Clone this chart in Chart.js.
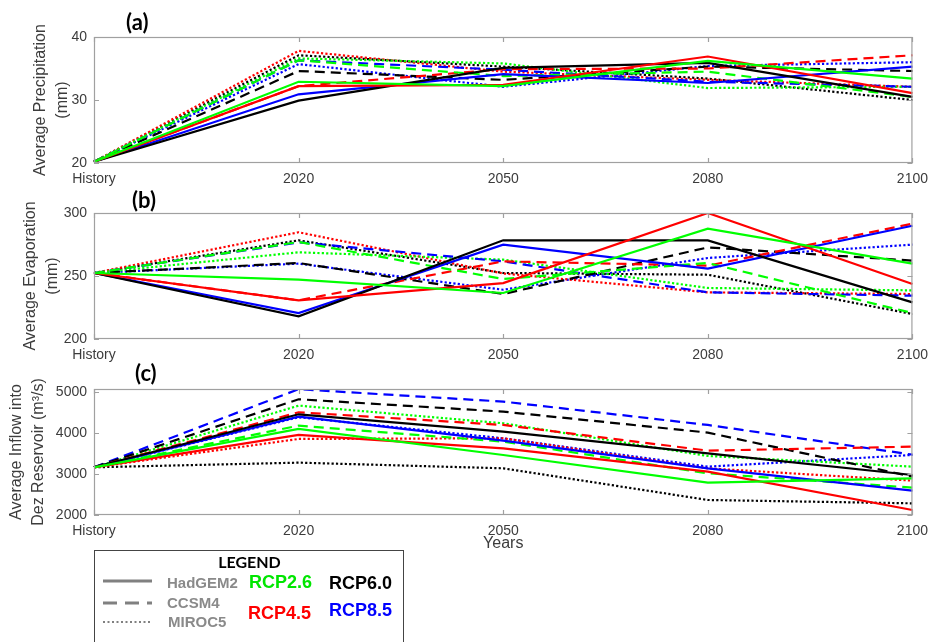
<!DOCTYPE html>
<html>
<head>
<meta charset="utf-8">
<script src="https://cdn.jsdelivr.net/npm/chart.js@4.4.0/dist/chart.umd.min.js"></script>
<style>
  body { margin: 0; background: #fff; width: 936px; height: 642px; overflow: hidden; position: relative; font-family: "Liberation Sans", Arial, sans-serif; }
  canvas { position: absolute; left: 0; }
  .tag { position: absolute; font-family: Lato, sans-serif; font-weight: bold; font-size: 22px; line-height: 22px; color: #000; }
  #legendBox { position: absolute; left: 94px; top: 550px; width: 308px; height: 110px; border: 1.5px solid #444; background: #fff; }
  .lg { position: absolute; font-weight: bold; white-space: nowrap; }
  .model { font-size: 15px; line-height: 16px; color: #8a8a8a; }
  .rcp { font-size: 18px; line-height: 20px; }
</style>
</head>
<body>
<canvas id="chartA" width="936" height="190" style="top:0px"></canvas>
<canvas id="chartB" width="936" height="175" style="top:190px"></canvas>
<canvas id="chartC" width="936" height="190" style="top:365px"></canvas>

<div class="tag" style="left:126px; top:11px">(a)</div>
<div class="tag" style="left:132px; top:189px">(b)</div>
<div class="tag" style="left:135px; top:362px">(c)</div>

<div id="legendBox"></div>
<div class="lg" style="left:94px; width:311px; top:553px; text-align:center; font-family:Lato, sans-serif; font-size:16px; line-height:18px; color:#000">LEGEND</div>
<svg style="position:absolute; left:100px; top:572px" width="56" height="60">
  <line x1="3" y1="9" x2="52" y2="9" stroke="#808080" stroke-width="3"/>
  <line x1="3" y1="31" x2="52" y2="31" stroke="#808080" stroke-width="3" stroke-dasharray="14 8"/>
  <line x1="3" y1="50" x2="51" y2="50" stroke="#808080" stroke-width="2" stroke-dasharray="2 2.5"/>
</svg>
<div class="lg model" style="left:167px; top:575px">HadGEM2</div>
<div class="lg model" style="left:167px; top:595px">CCSM4</div>
<div class="lg model" style="left:168px; top:614px">MIROC5</div>
<div class="lg rcp" style="left:249px; top:572px; color:#00e600">RCP2.6</div>
<div class="lg rcp" style="left:248px; top:603px; color:#ff0000">RCP4.5</div>
<div class="lg rcp" style="left:329px; top:573px; color:#000">RCP6.0</div>
<div class="lg rcp" style="left:329px; top:600px; color:#0000ff">RCP8.5</div>

<script>
const categories = ["History", "2020", "2050", "2080", "2100"];
const rcpNames = ["RCP2.6", "RCP4.5", "RCP6.0", "RCP8.5"];
const modelNames = ["HadGEM2", "CCSM4", "MIROC5"];

// rows follow rcpNames: RCP2.6, RCP4.5, RCP6.0, RCP8.5
// (a) average precipitation (mm)
const precipHadGEM2 = [
  [20.2, 32.9, 32.2, 36.2, 33.4],
  [20.2, 32.2, 32.4, 36.9, 31.1],
  [20.2, 29.9, 35.1, 35.9, 30.5],
  [20.2, 30.9, 34.1, 32.7, 35.3]
];
const precipCCSM4 = [
  [20.2, 36.3, 33.8, 34.5, 30.5],
  [20.2, 32.2, 34.9, 35.0, 37.1],
  [20.2, 34.6, 33.2, 35.3, 34.6],
  [20.2, 36.3, 34.8, 32.9, 32.1]
];
const precipMIROC5 = [
  [20.2, 36.6, 35.8, 31.9, 32.1],
  [20.2, 37.8, 34.5, 33.2, 32.1],
  [20.2, 37.1, 35.3, 33.4, 30.0],
  [20.2, 35.7, 32.1, 35.4, 36.0]
];

// (b) average evaporation (mm)
const evapHadGEM2 = [
  [252.4, 247.1, 236.5, 287.6, 259.8],
  [252.4, 230.7, 244.4, 300.0, 243.6],
  [252.4, 218.0, 278.3, 278.3, 229.1],
  [252.4, 220.6, 274.9, 255.8, 289.9]
];
const evapCCSM4 = [
  [252.4, 277.0, 247.6, 260.3, 220.6],
  [252.4, 230.7, 261.6, 258.2, 291.5],
  [252.4, 260.3, 235.7, 272.7, 262.2],
  [252.4, 276.7, 261.6, 237.0, 234.4]
];
const evapMIROC5 = [
  [252.4, 268.8, 263.0, 240.5, 238.6],
  [252.4, 284.7, 252.0, 237.0, 235.7],
  [252.4, 278.3, 252.4, 251.0, 219.8],
  [252.4, 259.8, 239.1, 264.3, 274.9]
];

// (c) average inflow into Dez reservoir (m3/s)
const inflowHadGEM2 = [
  [3166, 4103, 3467, 2791, 2897],
  [3166, 3957, 3630, 3060, 2122],
  [3166, 4462, 4038, 3508, 2978],
  [3166, 4405, 3818, 3141, 2595]
];
const inflowCCSM4 = [
  [3166, 4185, 3794, 3019, 2669],
  [3166, 4511, 4201, 3573, 3671],
  [3166, 4829, 4527, 4014, 2938],
  [3166, 5075, 4772, 4201, 3475]
];
const inflowMIROC5 = [
  [3166, 4674, 4242, 3443, 3182],
  [3166, 3859, 3875, 3141, 2840],
  [3166, 3280, 3141, 2367, 2285],
  [3166, 4389, 3875, 3182, 3467]
];

const precipTicks = [20, 30, 40];
const evapTicks = [200, 250, 300];
const inflowTicks = [2000, 3000, 4000, 5000];

const rcpColors = ["#00ff00", "#ff0000", "#000000", "#0000ff"];
const modelDash = [[], [10, 6], [2.2, 2.2]];
const textColor = "#3c3c3c";
const fontFamily = "'Liberation Sans', Arial, sans-serif";

// matlab-like box with inward tick marks
const boxPlugin = {
  id: "axesBox",
  afterDatasetsDraw(chart) {
    const { ctx, chartArea: a, scales } = chart;
    ctx.save();
    ctx.strokeStyle = "#a0a0a0";
    ctx.lineWidth = 1.2;
    ctx.strokeRect(a.left + 0.5, a.top + 0.5, a.right - a.left - 1, a.bottom - a.top - 1);
    ctx.beginPath();
    scales.x.ticks.forEach((t, i) => {
      const x = Math.round(scales.x.getPixelForTick(i)) + 0.5;
      ctx.moveTo(x, a.top); ctx.lineTo(x, a.top + 5);
      ctx.moveTo(x, a.bottom); ctx.lineTo(x, a.bottom - 5);
    });
    scales.y.ticks.forEach(t => {
      const y = Math.round(scales.y.getPixelForValue(t.value)) + 0.5;
      ctx.moveTo(a.left, y); ctx.lineTo(a.left + 5, y);
      ctx.moveTo(a.right, y); ctx.lineTo(a.right - 5, y);
    });
    ctx.stroke();
    ctx.restore();
  }
};

function makePanel(id, series, ticks, yMin, yMax, yTitle, titlePad, padTop, xHeight, xTitle) {
  const datasets = [];
  series.forEach((rows, m) => {
    rows.forEach((vals, r) => {
      datasets.push({
        label: modelNames[m] + " " + rcpNames[r],
        data: vals,
        borderColor: rcpColors[r],
        borderWidth: 2.2,
        borderDash: modelDash[m],
        pointRadius: 0,
        fill: false,
        tension: 0
      });
    });
  });

  return new Chart(document.getElementById(id), {
    type: "line",
    data: { labels: categories, datasets: datasets },
    options: {
      responsive: false,
      animation: false,
      events: [],
      layout: { padding: { top: padTop, right: 22, left: 0, bottom: 0 } },
      plugins: { legend: { display: false }, tooltip: { enabled: false } },
      scales: {
        x: {
          grid: { display: false, drawTicks: false },
          border: { display: false },
          ticks: { color: textColor, font: { family: fontFamily, size: 14 }, padding: 8, maxRotation: 0, autoSkip: false },
          title: { display: !!xTitle, text: xTitle || "", color: textColor, font: { family: fontFamily, size: 16 }, padding: { top: 0, bottom: 2 } },
          afterFit(s) { s.height = xHeight; }
        },
        y: {
          min: yMin,
          max: yMax,
          grid: { display: false, drawTicks: false },
          border: { display: false },
          ticks: { color: textColor, font: { family: fontFamily, size: 14 }, padding: 7, callback: v => String(v) },
          afterBuildTicks(s) { s.ticks = ticks.map(v => ({ value: v })); },
          title: { display: true, text: yTitle, color: textColor, font: { family: fontFamily, size: 16, lineHeight: 1.35 }, padding: { top: titlePad, bottom: 0 } },
          afterFit(s) { s.width = 94; }
        }
      }
    },
    plugins: [boxPlugin]
  });
}

makePanel("chartA", [precipHadGEM2, precipCCSM4, precipMIROC5], precipTicks, 20, 40,
  ["Average Precipitation", "(mm)"], 29.7, 37, 27, null);
makePanel("chartB", [evapHadGEM2, evapCCSM4, evapMIROC5], evapTicks, 200, 300,
  ["Average Evaporation", "(mm)"], 19.9, 23, 26, null);
makePanel("chartC", [inflowHadGEM2, inflowCCSM4, inflowMIROC5], inflowTicks, 2000, 5080,
  ["Average Inflow into", "Dez Reservoir (m\u00b3/s)"], 5.9, 24, 40, "Years");
</script>
</body>
</html>
